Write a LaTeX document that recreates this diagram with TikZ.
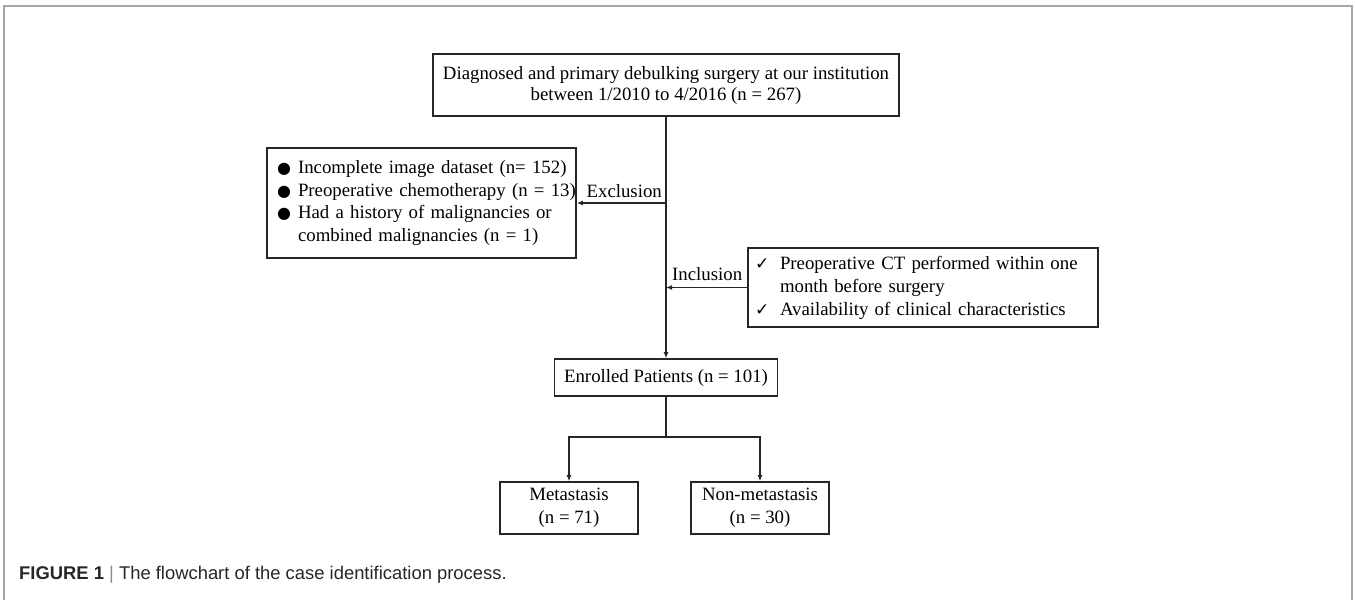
\documentclass[tikz,border=0pt]{standalone}
\usepackage{fontspec}
\setmainfont{Liberation Serif}
\newfontfamily\symfont{DejaVu Sans}
\newfontfamily\capfont{Liberation Sans}
\usetikzlibrary{arrows.meta}
\newcommand\bul{\makebox[21pt][l]{\symfont\fontsize{16}{16}\selectfont ●}}
\newcommand\chk{\makebox[25pt][l]{\symfont\fontsize{17}{17}\selectfont ✓}}
\begin{document}
\begin{tikzpicture}[x=1pt,y=-1pt,
  box/.style={draw=black!85, line width=1.6pt, inner sep=0pt, font=\fontsize{18.8}{21}\selectfont, align=center},
  conn/.style={draw=black!85, line width=1.6pt},
  arr/.style={conn, -{Latex[length=6pt,width=5pt]}},
  lbl/.style={font=\fontsize{18.8}{21}\selectfont, inner sep=0pt},
  framestyle/.style={draw=black!35, line width=2pt}]
\useasboundingbox (0,0) rectangle (1355,600);
\draw[framestyle] (4,600) -- (4,6) -- (1352,6) -- (1352,600);

\node[box, minimum width=466pt, minimum height=62pt] (top) at (666,85)
  {Diagnosed and primary debulking surgery at our institution\\between 1/2010 to 4/2016 (n = 267)};

\node[box, text width=289pt, minimum height=110pt, inner xsep=10pt, align=left,
  font=\fontsize{18.8}{22.5}\selectfont] (excl) at (421.5,203)
  {\mbox{\bul Incomplete image dataset (n= 152)}\\
   \mbox{\bul Preoperative chemotherapy (n = 13)}\\
   \mbox{\bul Had a history of malignancies or}\\
   \mbox{\hspace*{21pt}combined malignancies (n = 1)}};

\node[box, text width=336pt, inner xsep=7pt, minimum height=79pt, align=left,
  font=\fontsize{18.8}{23}\selectfont] (incl) at (923,287.5)
  {\mbox{\chk Preoperative CT performed within one}\\
   \mbox{\hspace*{25pt}month before surgery}\\
   \mbox{\chk Availability of clinical characteristics}};

\node[box, minimum width=223pt, minimum height=37pt] (enr) at (666,377.5) {Enrolled Patients (n = 101)};
\node[box, minimum width=138pt, minimum height=52pt, font=\fontsize{18.8}{23}\selectfont] (meta) at (569,508) {Metastasis\\(n = 71)};
\node[box, minimum width=138pt, minimum height=52pt, font=\fontsize{18.8}{23}\selectfont] (nonmeta) at (760,508) {Non-metastasis\\(n = 30)};

\coordinate (exj) at (666,203);
\coordinate (inj) at (666,287.5);
\coordinate (br) at (666,437);
\draw[arr] (top.south) -- (enr.north);
\draw[arr] (exj) -- (excl.east);
\draw[arr] (incl.west) -- (inj);
\draw[conn] (enr.south) -- (br);
\draw[arr] (br) -| (meta.north);
\draw[arr] (br) -| (nonmeta.north);
\node[lbl, anchor=base east] (exl) at (662,197) {Exclusion};
\node[lbl, anchor=base west] (inl) at (672,280) {Inclusion};

\node[anchor=base west, font=\capfont\fontsize{18.4}{22}\selectfont, inner sep=0pt, text=black!85] (cap) at (19,579)
  {\textbf{FIGURE 1} {\color{black!45}|} The flowchart of the case identification process.};
\end{tikzpicture}
\end{document}
